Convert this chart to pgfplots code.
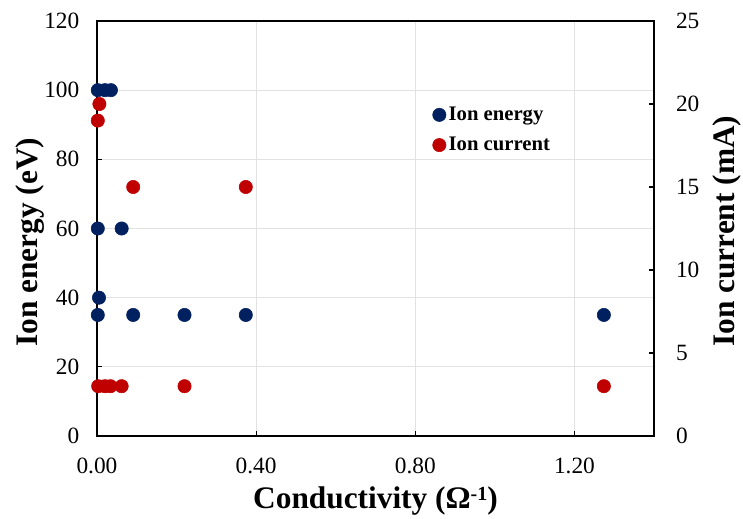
\documentclass[border=0pt]{standalone}
\usepackage{pgfplots}
\pgfplotsset{compat=1.18}
\usepackage{fontspec}
\setmainfont{Liberation Serif}
\definecolor{ienergy}{HTML}{002060}
\definecolor{icurrent}{HTML}{C00000}
\definecolor{gridc}{HTML}{E2E2E2}
\begin{document}
\begin{tikzpicture}
\path[use as bounding box] (-72.75pt,-61.5pt) rectangle (484.5pt,327pt);
\pgfplotsset{
  every axis/.append style={
    scale only axis, width=417.75pt, height=311.25pt,
    at={(0,0)}, anchor=south west,
    xmin=0, xmax=1.4,
    /pgf/number format/assume math mode=true,
    tick style={black, line width=0.9pt},
    major tick length=4pt,
    ticklabel style={font=\fontsize{17.5}{20}\selectfont},
    label style={font=\fontsize{23.5}{28}\selectfont\bfseries},
  }
}
\begin{axis}[
  axis line style={black, line width=1.1pt},
  ymin=0, ymax=120, ytick={0,20,...,120},
  xtick={0,0.4,0.8,1.2},
  xticklabels={0.00,0.40,0.80,1.20},
  xtick pos=bottom, ytick pos=left,
  grid=major, grid style={gridc, line width=0.7pt},
  ylabel={Ion energy (eV)},
  xlabel={Conductivity (Ω\raisebox{0.55ex}{\fontsize{15}{18}\selectfont -1})},
  ylabel style={at={(axis description cs:-0.1068,0.467)}, anchor=base},
  xlabel style={at={(axis description cs:0.5,-0.1735)}, anchor=base},
  yticklabel style={xshift=-9.75pt},
  xticklabel style={yshift=-12.75pt},
]
\addplot[only marks, mark=*, mark size=5pt, color=ienergy, mark options={fill=ienergy, draw=ienergy}] coordinates {
 (0.002,100) (0.02,100) (0.035,100)
 (0.002,60) (0.062,60)
 (0.005,40)
 (0.002,35) (0.091,35) (0.22,35) (0.374,35) (1.274,35)
};
\end{axis}
\begin{axis}[
  axis x line=none,
  axis y line*=right,
  axis line style={black, line width=1.1pt},
  ymin=0, ymax=25, ytick={0,5,...,25},
  ytick pos=right,
  ylabel={Ion current (mA)},
  ylabel style={at={(axis description cs:1.1454,0.4935)}, anchor=base},
  yticklabel style={xshift=13pt},
  legend style={at={(0.595,0.806)}, anchor=north west, draw=none, fill=none,
    font=\fontsize{15.5}{18}\selectfont\bfseries, row sep=7pt,
    /tikz/every even column/.append style={column sep=2pt}},
  legend cell align=left,
]
\addlegendimage{only marks, mark=*, mark size=5pt, color=ienergy, mark options={fill=ienergy, draw=ienergy}}
\addlegendentry{Ion energy}
\addplot[only marks, mark=*, mark size=5pt, color=icurrent, mark options={fill=icurrent, draw=icurrent}] coordinates {
 (0.006,20) (0.002,19)
 (0.091,15) (0.374,15)
 (0.003,3) (0.02,3) (0.034,3) (0.062,3) (0.22,3) (1.274,3)
};
\addlegendentry{Ion current}
\end{axis}
\end{tikzpicture}
\end{document}
